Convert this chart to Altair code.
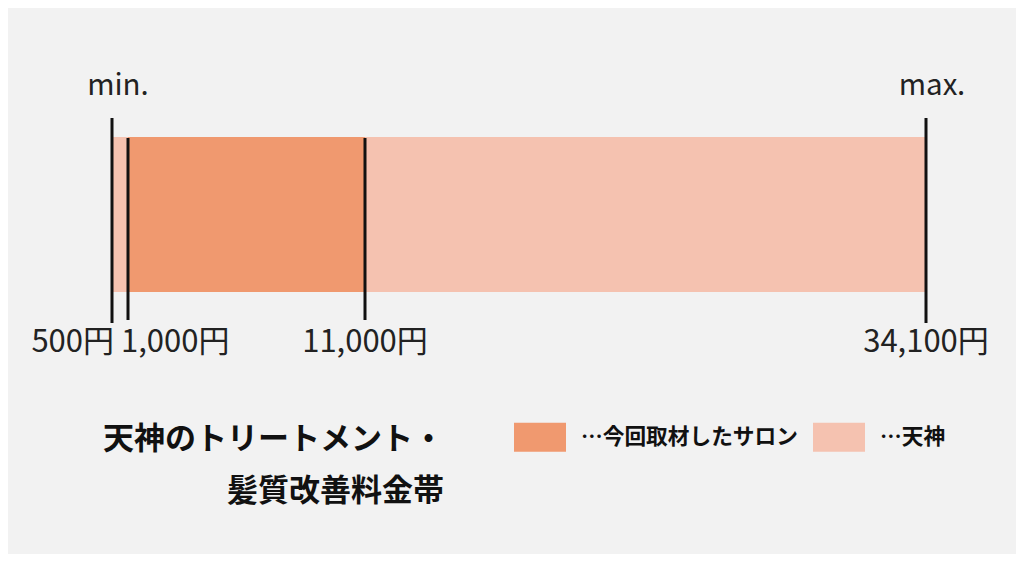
import altair as alt
import pandas as pd

# ---- data ----
series = ["天神", "今回取材したサロン"]
range_start = [500, 1000]
range_end = [34100, 11000]

legend_order = ["今回取材したサロン", "天神"]
legend_colors = ["#F0996F", "#F5C2B0"]

outer_ticks = [500, 34100]
outer_names = ["min.", "max."]
inner_ticks = [1000, 11000]

price_values = [500, 1000, 11000, 34100]
price_labels = ["500円", "1,000円", "11,000円", "34,100円"]

title_lines = ["天神のトリートメント・", "髪質改善料金帯"]

# ---- layout ----
W, H = 1008, 546
FONT = "Noto Sans CJK JP"
# piecewise scale (the original graphic is not drawn strictly to scale)
xs = alt.Scale(domain=price_values, range=[104, 120, 357, 918], nice=False, zero=False)

bars_df = pd.DataFrame({"series": series, "start": range_start, "end": range_end})
outer_df = pd.DataFrame({"v": outer_ticks, "name": outer_names})
inner_df = pd.DataFrame({"v": inner_ticks})
price_df = pd.DataFrame({"v": price_values, "label": price_labels})

bars = alt.Chart(bars_df).mark_rect().encode(
    x=alt.X("start:Q", scale=xs, axis=None),
    x2="end:Q",
    y=alt.value(129),
    y2=alt.value(284),
    color=alt.Color(
        "series:N",
        scale=alt.Scale(domain=legend_order, range=legend_colors),
        legend=alt.Legend(
            orient="none", legendX=506, legendY=403, direction="horizontal",
            title=None, symbolType="M-1,-0.557H1V0.557H-1Z", symbolSize=2704,
            symbolStrokeWidth=0, symbolOpacity=1,
            labelFont=FONT, labelFontSize=21.7, labelFontWeight="bold",
            labelColor="#111111", labelOffset=15, columnPadding=15,
            labelExpr="'…' + datum.label", padding=0, labelLimit=400,
        ),
    ),
)

outer_rules = alt.Chart(outer_df).mark_rule(color="#111111", strokeWidth=3).encode(
    x=alt.X("v:Q", scale=xs, axis=None), y=alt.value(110), y2=alt.value(315)
)
inner_rules = alt.Chart(inner_df).mark_rule(color="#111111", strokeWidth=3).encode(
    x=alt.X("v:Q", scale=xs, axis=None), y=alt.value(130), y2=alt.value(312)
)

minmax = alt.Chart(outer_df).mark_text(
    font=FONT, fontSize=29.5, color="#222222", align="center", baseline="middle", dx=6
).encode(x=alt.X("v:Q", scale=xs, axis=None), y=alt.value(78), text="name:N")

lab_style = dict(font=FONT, fontSize=31, color="#222222", baseline="middle")
lab_y = alt.value(335)
lab_a = alt.Chart(price_df.iloc[[0]]).mark_text(align="right", dx=2, **lab_style).encode(
    x=alt.X("v:Q", scale=xs, axis=None), y=lab_y, text="label:N")
lab_b = alt.Chart(price_df.iloc[[1]]).mark_text(align="left", dx=-7, **lab_style).encode(
    x=alt.X("v:Q", scale=xs, axis=None), y=lab_y, text="label:N")
lab_c = alt.Chart(price_df.iloc[[2, 3]]).mark_text(align="center", **lab_style).encode(
    x=alt.X("v:Q", scale=xs, axis=None), y=lab_y, text="label:N")

title_ys = [432, 484]
titles = [
    alt.Chart(pd.DataFrame({"t": [t]})).mark_text(
        font=FONT, fontSize=31, fontWeight="bold", color="#111111",
        align="right", baseline="middle",
    ).encode(x=alt.value(436), y=alt.value(yy), text="t:N")
    for t, yy in zip(title_lines, title_ys)
]

chart = alt.layer(
    bars, outer_rules, inner_rules, minmax, lab_a, lab_b, lab_c, *titles
).properties(
    width=W, height=H,
    autosize=alt.AutoSizeParams(type="fit", contains="padding"),
    padding=0,
    background="#F2F2F2",
).configure_view(stroke=None)

chart.save("out.html", embed_options={"renderer": "svg", "actions": False})
